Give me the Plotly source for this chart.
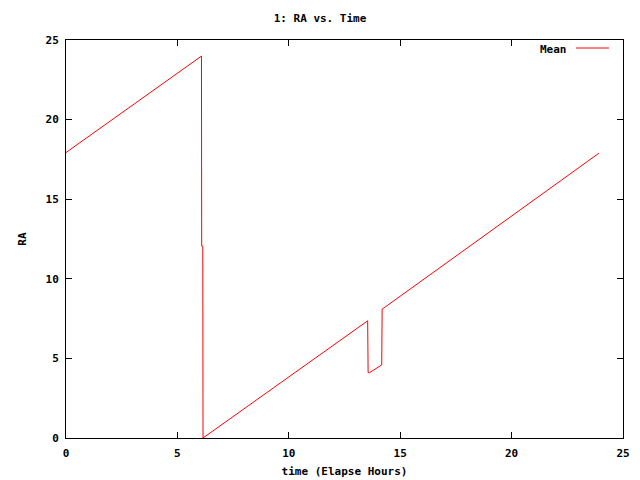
import plotly.graph_objects as go

# Elapsed time (hours) at breakpoints
time_hours = [0.0, 6.08, 6.09, 6.14, 6.15, 13.54, 13.56, 13.62, 14.17, 14.19, 14.28, 23.92]
# Mean RA at those times
ra_mean = [17.93, 23.99, 12.05, 12.05, 0.0, 7.36, 4.11, 4.10, 4.59, 8.10, 8.18, 17.89]

x_ticks = [0, 5, 10, 15, 20, 25]
y_ticks = [0, 5, 10, 15, 20, 25]

FONT = dict(family="DejaVu Sans Mono", size=11, color="black", weight="bold")

fig = go.Figure()
fig.add_trace(go.Scatter(
    x=time_hours, y=ra_mean, mode="lines", name="Mean",
    line=dict(color="#ff0000", width=1), showlegend=False,
))

axis_common = dict(
    showgrid=False, zeroline=False, showline=True, linecolor="black", linewidth=1,
    ticks="inside", ticklen=6, tickcolor="black", mirror="ticks",
    tickfont=FONT, range=[0, 25], automargin=False,
)

# page body adds an 8px offset; margins compensate for it
fig.update_layout(
    width=640, height=480,
    margin=dict(l=58, r=25, t=32, b=50, autoexpand=False),
    paper_bgcolor="white", plot_bgcolor="white",
    font=FONT,
    title=dict(text="1: RA vs. Time", x=(320 - 8) / 640, xanchor="center",
               y=1 - 10 / 480, yanchor="middle", font=FONT, automargin=False),
    xaxis=dict(axis_common, tickvals=x_ticks, ticktext=[str(v) for v in x_ticks],
               ticklabelstandoff=5,
               title=dict(text="time (Elapse Hours)", font=FONT, standoff=8)),
    yaxis=dict(axis_common, tickvals=y_ticks, ticktext=[str(v) for v in y_ticks],
               ticklabelstandoff=4,
               title=dict(text="RA", font=FONT, standoff=16)),
)

# gnuplot-style key: label then line sample, top right inside plot
fig.add_annotation(text="Mean", xref="x domain", yref="y domain",
                   x=(569 - 66) / 557, y=1 - (49 - 40) / 398, xanchor="right",
                   yanchor="middle", showarrow=False, font=FONT)
fig.add_shape(type="line", xref="x domain", yref="y domain",
              x0=(576 - 66) / 557, x1=(609 - 66) / 557,
              y0=1 - (48 - 40) / 398, y1=1 - (48 - 40) / 398,
              line=dict(color="#ff0000", width=1))

fig.write_html("out.html")
